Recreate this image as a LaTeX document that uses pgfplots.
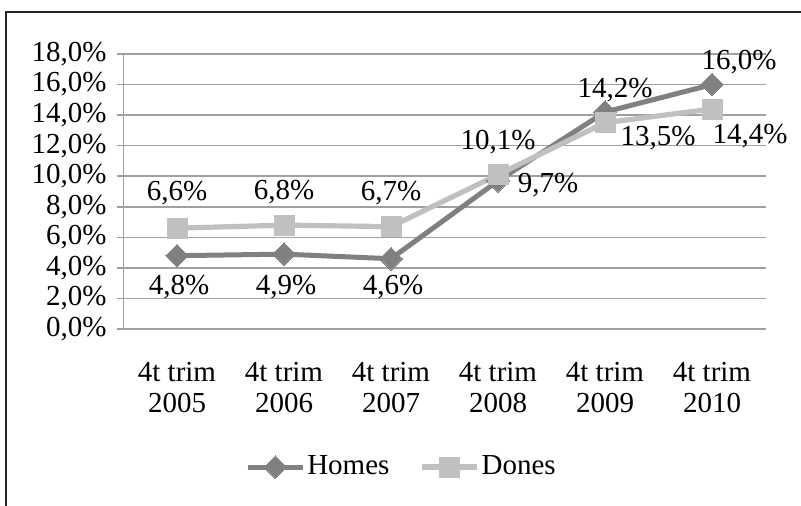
\documentclass[border=0pt]{standalone}
\usepackage{fontspec}
\setmainfont{Liberation Serif}
\usepackage{pgfplots}
\pgfplotsset{compat=1.18}
\usepackage{pgfplotstable}
\definecolor{gridgray}{RGB}{160,160,160}
\definecolor{homescol}{RGB}{128,128,130}
\definecolor{donescol}{RGB}{192,192,194}
\pgfplotstableread{
x y dx dy
0 4.8 1 -15.5
1 4.9 1 -16.5
2 4.6 1 -14
3 9.7 25 -2
4 14.2 5 11
5 16.0 13.5 11
}\homes
\pgfplotstableread{
x y dx dy
0 6.6 0 17.5
1 6.8 0 16.5
2 6.7 0 17
3 10.1 0 16.5
4 13.5 26.5 -7.5
5 14.4 19 -13.5
}\dones
\begin{document}
\fontsize{14.5}{15.5}\selectfont
\begin{tikzpicture}
\useasboundingbox (0,0) rectangle (400.5pt,252.5pt);
\draw[line width=1.3pt, black!85] (3pt,-5pt) -- (3pt,246.5pt) -- (405pt,246.5pt);
\begin{axis}[
  at={(61.75pt,88pt)}, anchor=south west,
  scale only axis, width=321pt, height=137.5pt,
  xmin=-0.5, xmax=5.5, ymin=0, ymax=18,
  axis x line*=bottom, axis y line*=left,
  axis line style={gridgray, line width=0.8pt, -},
  /pgf/number format/assume math mode=true,
  xtick={0,...,5},
  xticklabels={{4t trim\\2005},{4t trim\\2006},{4t trim\\2007},{4t trim\\2008},{4t trim\\2009},{4t trim\\2010}},
  xticklabel style={align=center, yshift=-8pt},
  major x tick style={draw=none},
  extra x ticks={-0.5,0.5,1.5,2.5,3.5,4.5,5.5},
  extra x tick labels={},
  extra x tick style={grid=none, major tick length=3pt, tick align=outside, tick style={draw=gridgray, line width=0.8pt}},
  ytick={0,2,...,18},
  yticklabel={\pgfmathprintnumber[fixed,zerofill,precision=1,use comma]{\tick}\%},
  ymajorgrids, grid style={gridgray, line width=0.8pt},
  major y tick style={draw=gridgray, line width=0.8pt},
  tick align=outside, major tick length=3.5pt,
  clip=false,
  legend style={at={(axis description cs:0.433,-0.502)}, anchor=center, draw=none, fill=none,
    legend columns=2, /tikz/every even column/.append style={column sep=14pt},
    inner sep=0pt, nodes={inner sep=1pt}},
  legend image code/.code={\draw[mark repeat=2,mark phase=2] plot coordinates {(0pt,0pt) (13.75pt,0pt) (27.5pt,0pt)};},
  nodes near coords={\pgfmathprintnumber[fixed,zerofill,precision=1,use comma]{\pgfplotspointmeta}\%},
  point meta=y,
  visualization depends on={\thisrow{dx}\as\dx},
  visualization depends on={\thisrow{dy}\as\dy},
  every node near coord/.append style={anchor=center, xshift=\dx pt, yshift=\dy pt, text=black, inner sep=0pt},
]
\addplot[homescol, line width=2.5pt, mark=square*, mark size=4pt, mark options={rotate=45, fill=homescol, draw=homescol, line width=0pt}] table[x=x,y=y] {\homes};
\addlegendentry{Homes}
\addplot[donescol, line width=2.6pt, mark=square*, mark size=5pt, mark options={fill=donescol, draw=donescol, line width=0pt}] table[x=x,y=y] {\dones};
\addlegendentry{Dones}
\end{axis}
\end{tikzpicture}
\end{document}
